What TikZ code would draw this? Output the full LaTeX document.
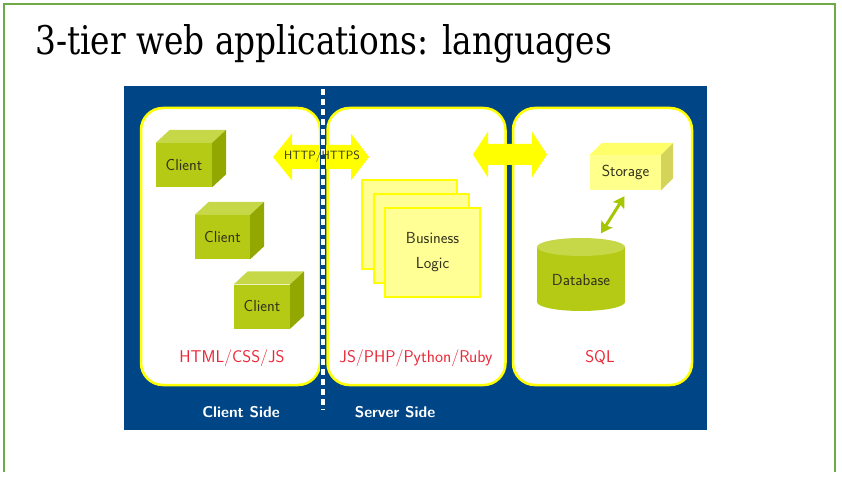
\documentclass[tikz,border=0pt]{standalone}
\usepackage{fontspec}
\usepackage{graphicx}
\usetikzlibrary{calc,arrows.meta}
\newfontfamily\titlefont{DejaVu Serif}

\definecolor{slidegreen}{RGB}{112,170,72}
\definecolor{panelblue}{RGB}{0,70,135}
\definecolor{hiyellow}{RGB}{255,255,0}
\definecolor{paleyellow}{RGB}{255,255,150}
\definecolor{limefront}{RGB}{180,202,20}
\definecolor{limetop}{RGB}{198,216,72}
\definecolor{limeside}{RGB}{146,168,0}
\definecolor{stofront}{RGB}{255,255,140}
\definecolor{stotop}{RGB}{255,255,105}
\definecolor{stoside}{RGB}{212,212,90}
\definecolor{labelred}{RGB}{235,40,55}
\definecolor{inktext}{RGB}{50,50,28}
\definecolor{arrowgreen}{RGB}{165,198,0}

\begin{document}
\begin{tikzpicture}[x=1pt,y=-1pt,
  panel/.style={draw=hiyellow, line width=2.5pt, fill=white, rounded corners=22pt},
  boxtext/.style={text=inktext, font=\sffamily\fontsize{16}{18}\selectfont},
  cubefront/.style={fill=limefront, inner sep=0pt, boxtext},
  sheet/.style={draw=hiyellow, line width=2pt, fill=paleyellow,
    minimum width=95pt, minimum height=89pt, inner sep=0pt},
  langlabel/.style={text=labelred, font=\sffamily\fontsize{17}{19}\selectfont},
  sidelabel/.style={text=white, font=\sffamily\bfseries\fontsize{15.5}{17}\selectfont},
  flowarrow/.style={fill=hiyellow},
  dbarrow/.style={draw=arrowgreen, line width=3pt,
    {Stealth[length=11pt,width=13pt,inset=2pt]}-{Stealth[length=11pt,width=13pt,inset=2pt]}}
]
\useasboundingbox (0,0) rectangle (842,478);
\fill[white] (0,0) rectangle (842,478);

% slide frame
\draw[slidegreen, line width=1.5pt] (4,472) -- (4,4) -- (835,4) -- (835,472);

% title
\node[anchor=base west, inner sep=0pt] (title) at (35,55)
  {\resizebox{577pt}{30pt}{\titlefont\fontsize{38}{40}\selectfont 3-tier web applications: languages}};

% background of the diagram
\fill[panelblue] (124,86) rectangle (707,430);

% the three tiers
\node[panel, minimum width=179pt, minimum height=277pt] (clienttier) at (230.5,246.5) {};
\node[panel, minimum width=178pt, minimum height=277pt] (servertier) at (416.5,246.5) {};
\node[panel, minimum width=179pt, minimum height=277pt] (datatier) at (602.5,246.5) {};

% client cubes
\foreach \name/\cx/\cy/\w in {c1/184/165/56, c2/222.5/237/55, c3/262/306.5/56}{
  \node[cubefront, minimum width=\w pt, minimum height=44pt] (\name) at (\cx,\cy) {Client};
  \fill[limetop] (\name.north west) -- ++(14,-13) -- ($(\name.north east)+(14,-13)$)
    -- (\name.north east) -- cycle;
  \fill[limeside] (\name.north east) -- ++(14,-13) -- ($(\name.south east)+(14,-13)$)
    -- (\name.south east) -- cycle;
}

% business logic sheets
\node[sheet] (bl1) at (409.5,224.5) {};
\node[sheet] (bl2) at (421,238.5) {};
\node[sheet, align=center, boxtext, font=\sffamily\fontsize{16}{25}\selectfont]
  (bl3) at (432.5,252.5) {Business\\Logic};

% storage box
\node[fill=stofront, minimum width=71pt, minimum height=35pt, inner sep=0pt, boxtext]
  (storage) at (625.5,172.5) {Storage};
\fill[stotop] (storage.north west) -- ++(12,-12) -- ($(storage.north east)+(12,-12)$)
  -- (storage.north east) -- cycle;
\fill[stoside] (storage.north east) -- ++(12,-12) -- ($(storage.south east)+(12,-12)$)
  -- (storage.south east) -- cycle;

% database cylinder
\fill[limefront] (581,302) ellipse [x radius=44pt, y radius=9pt];
\fill[limefront] (537,247) rectangle (625,302);
\fill[limetop] (581,247) ellipse [x radius=44pt, y radius=9pt];
\node[minimum width=88pt, minimum height=73pt, inner sep=0pt, boxtext]
  (db) at (581,280) {Database};

\draw[dbarrow] ($(storage.south)+(-1,6)$) -- ($(db.north)+(20,-10)$);

% request arrows
\fill[flowarrow] (273,157) -- (292,133.5) -- (292,145) -- (351,145) -- (351,133.5)
  -- (369,157) -- (351,180.5) -- (351,169) -- (292,169) -- (292,180.5) -- cycle;
\fill[flowarrow] (473,154.5) -- (488,131.5) -- (488,144) -- (532,144) -- (532,131.5)
  -- (547,154.5) -- (532,177.5) -- (532,165) -- (488,165) -- (488,177.5) -- cycle;

% client/server boundary
\draw[panelblue, line width=6pt] (323,88) -- (323,411);
\draw[white, line width=3.5pt, dash pattern=on 6pt off 4pt] (323,89) -- (323,410);

\node[text=inktext, font=\sffamily\fontsize{12}{14}\selectfont] (http) at (322,157) {HTTP/HTTPS};

% language labels
\node[langlabel] (htmllabel) at (232,358) {HTML/CSS/JS};
\node[langlabel] (serverlang) at (416,358) {JS/PHP/Python/Ruby};
\node[langlabel] (sqllabel) at (600,358) {SQL};

% side captions
\node[sidelabel] (clientside) at (241,412) {Client Side};
\node[sidelabel] (serverside) at (395,412) {Server Side};
\end{tikzpicture}
\end{document}
